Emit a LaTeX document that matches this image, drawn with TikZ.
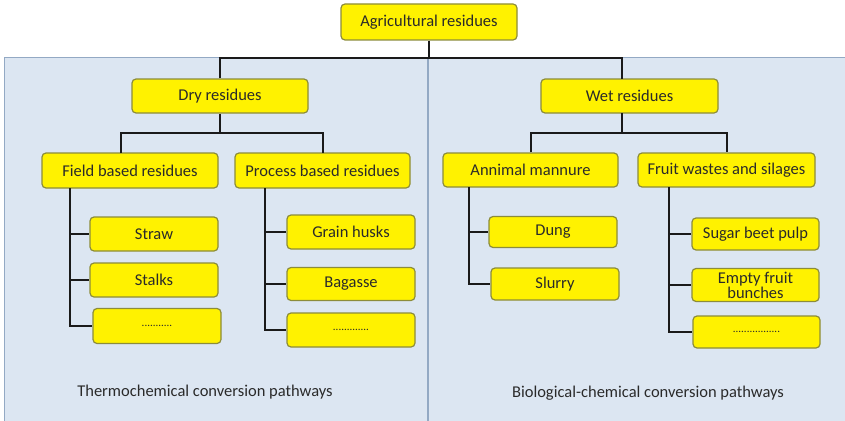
\documentclass[tikz,border=0pt]{standalone}
\usepackage{fontspec}
\setmainfont{Carlito}
\definecolor{panelfill}{HTML}{DCE6F2}
\definecolor{paneldraw}{HTML}{93A9C4}
\definecolor{boxdraw}{HTML}{8C8C3A}
\definecolor{linecol}{HTML}{1A1A1A}
\definecolor{txt}{HTML}{2A2A2A}
\tikzset{
  box/.style={draw=boxdraw, line width=1.2pt, fill=yellow, rounded corners=4pt,
    align=center, inner sep=1pt, font=\fontsize{16.5}{16.5}\selectfont, text=txt},
  conn/.style={draw=linecol, line width=2pt},
  panel/.style={draw=paneldraw, fill=panelfill, line width=1pt},
  dotsbox/.style={box, font=\fontsize{11}{11}\selectfont}
}
\begin{document}
\begin{tikzpicture}[x=1pt,y=-1pt]
\useasboundingbox (0,0) rectangle (845,420);
% panels
\path[panel] (4,58) rectangle (427.5,424);
\path[panel] (428.5,58) rectangle (849,424);
% top
\node[box, minimum width=176pt, minimum height=36pt] (top) at (429,22) {Agricultural residues};
\node[box, minimum width=176pt, minimum height=34pt] (dry) at (220,96) {Dry residues};
\node[box, minimum width=177pt, minimum height=34pt] (wet) at (629.5,96) {Wet residues};
% second level
\node[box, minimum width=176pt, minimum height=35pt] (field) at (130,170.5) {Field based residues};
\node[box, minimum width=175pt, minimum height=35pt] (proc) at (322.5,170.5) {Process based residues};
\node[box, minimum width=175pt, minimum height=34pt] (anim) at (530.5,170) {Annimal mannure};
\node[box, minimum width=177pt, minimum height=34pt] (fruit) at (726.5,170) {Fruit wastes and silages};
% leaves left
\node[box, minimum width=128pt, minimum height=34pt] (straw) at (154,234) {Straw};
\node[box, minimum width=128pt, minimum height=34pt] (stalks) at (154,280) {Stalks};
\node[dotsbox, minimum width=128pt, minimum height=35pt] (dots1) at (157,326) {...........};
\node[box, minimum width=128pt, minimum height=34pt] (grain) at (351,232) {Grain husks};
\node[box, minimum width=128pt, minimum height=33pt] (bagasse) at (351,284) {Bagasse};
\node[dotsbox, minimum width=128pt, minimum height=34pt] (dots2) at (351,330) {.............};
% leaves right
\node[box, minimum width=128pt, minimum height=31pt] (dung) at (553,232) {Dung};
\node[box, minimum width=128pt, minimum height=32pt] (slurry) at (555,284) {Slurry};
\node[box, minimum width=127pt, minimum height=32pt] (sugar) at (755.5,234) {Sugar beet pulp};
\node[box, minimum width=127pt, minimum height=33pt, inner sep=0pt, font=\fontsize{16.5}{13}\selectfont] (empty) at (755.5,285) {Empty fruit\\bunches};
\node[dotsbox, minimum width=127pt, minimum height=32pt] (dots3) at (756.5,332) {.................};
% labels
\node[font=\fontsize{16.5}{16.5}\selectfont, text=txt] (lab1) at (205,392) {Thermochemical conversion pathways};
\node[font=\fontsize{16.5}{16.5}\selectfont, text=txt] (lab2) at (648,393) {Biological-chemical conversion pathways};
% junction coordinates
\coordinate (j0) at (429,58);
\coordinate (jd) at (220,58);
\coordinate (jw) at (622,58);
\coordinate (wetin) at (622,79);
\coordinate (wetout) at (622,113);
\coordinate (j1) at (220,133);
\coordinate (j2) at (622,133);
\coordinate (fin) at (121,153);
\coordinate (fj) at (121,133);
\coordinate (pin) at (323,153);
\coordinate (pj) at (323,133);
\coordinate (tf) at (70,188);
\coordinate (tp) at (265,188);
\coordinate (ta) at (469,187);
\coordinate (tr) at (669,187);
% connectors
\draw[conn] (top.south) -- (j0);
\draw[conn] (dry.north) -- (jd) -- (jw) -- (wetin);
\draw[conn] (dry.south) -- (j1);
\draw[conn] (fin) -- (fj) -- (pj) -- (pin);
\draw[conn] (wetout) -- (j2);
\draw[conn] (anim.north) -- (anim.north |- j2) -- (fruit.north |- j2) -- (fruit.north);
% trunks and branches
\draw[conn] (tf) |- (dots1.west);
\draw[conn] (tf |- straw.west) -- (straw.west);
\draw[conn] (tf |- stalks.west) -- (stalks.west);
\draw[conn] (tp) |- (dots2.west);
\draw[conn] (tp |- grain.west) -- (grain.west);
\draw[conn] (tp |- bagasse.west) -- (bagasse.west);
\draw[conn] (ta) |- (slurry.west);
\draw[conn] (ta |- dung.west) -- (dung.west);
\draw[conn] (tr) |- (dots3.west);
\draw[conn] (tr |- sugar.west) -- (sugar.west);
\draw[conn] (tr |- empty.west) -- (empty.west);
\end{tikzpicture}
\end{document}
